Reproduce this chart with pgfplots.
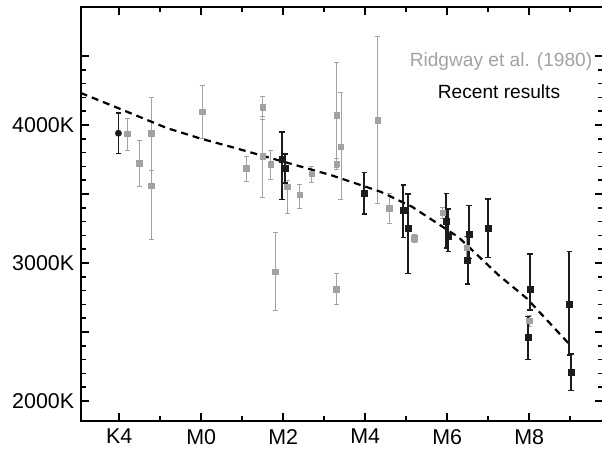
\documentclass[border=0pt]{standalone}
\usepackage{fontspec}
\setmainfont{Liberation Sans}
\usepackage{pgfplots}
\usepackage{pgfplotstable}
\pgfplotsset{compat=1.18}
\definecolor{ridg}{HTML}{A2A2A2}
\definecolor{rec}{HTML}{1C1C1C}

\pgfplotstableread{
x y ep em
-1.81 3935 114 121
-1.51 3722 169 169
-1.22 3940 260 271
-1.22 3558 382 391
0.02 4097 193 194
1.10 3686 84 97
1.50 4128 82 87
1.50 3775 290 299
1.70 3717 102 110
1.80 2937 283 278
2.10 3553 47 191
2.40 3493 79 97
2.70 3645 58 63
3.31 4072 382 382
3.31 3720 40 40
3.41 3843 391 386
3.29 2810 112 110
4.30 4036 609 608
4.59 3396 109 108
5.20 3179 30 30
5.89 3365 40 40
6.47 3110 80 80
8.00 2580 40 40
}\ridgway

\pgfplotstableread{
x y ep em
1.97 3750 200 290
2.05 3690 100 110
3.98 3505 150 150
4.93 3384 181 200
5.05 3251 250 326
5.98 3304 201 197
6.03 3191 200 109
6.50 3022 169 174
6.54 3210 205 176
6.99 3251 211 210
8.02 2809 256 150
7.97 2459 152 157
8.98 2701 381 368
9.02 2208 133 133
}\recent

\pgfplotstableread{
x y ep em
-2.02 3940 145 145
}\recentcirc

\pgfplotstableread{
x y
-2.94 4232
-2.38 4165
-0.84 3978
0.00 3900
0.71 3843
3.15 3638
4.37 3517
5.14 3408
6.28 3186
7.25 2913
7.94 2744
8.96 2418
}\fitline

\begin{document}
\begin{tikzpicture}[x=1bp,y=1bp]
\useasboundingbox (0,0) rectangle (602,453);
\begin{axis}[
  at={(80.7bp,32.3bp)}, anchor=south west,
  scale only axis, width=521.8bp, height=413.7bp,
  xmin=-2.94, xmax=9.79, ymin=1857, ymax=4855,
  xtick={-2,0,2,4,6,8}, xticklabels={K4,M0,M2,M4,M6,M8},
  minor xtick={-1,1,3,5,7,9},
  ytick={2000,2500,3000,3500,4000,4500},
  yticklabels={2000K,,3000K,,4000K,},
  minor y tick num=4,
  tick align=inside,
  major tick length=8bp, minor tick length=5bp,
  axis line style={line width=2bp},
  every tick/.style={black, line width=1.5bp},
  tick label style={font=\fontsize{21.5}{24}\selectfont},
  xticklabel style={yshift=-5bp},
  yticklabel style={xshift=-3bp},
  clip=false,
]
\addplot[only marks, mark=square*, mark size=2.7bp, color=ridg,
  error bars/.cd, y dir=both, y explicit,
  error bar style={line width=0.9bp, ridg},
  error mark options={rotate=90, mark size=2.5bp, ridg, line width=0.9bp}]
  table[x=x, y=y, y error plus=ep, y error minus=em] {\ridgway};
\addplot[no marks, black, line width=2.2bp, dash pattern=on 7bp off 5bp]
  table[x=x, y=y] {\fitline};
\addplot[only marks, mark=square*, mark size=3bp, color=rec,
  error bars/.cd, y dir=both, y explicit,
  error bar style={line width=1.8bp, rec},
  error mark options={rotate=90, mark size=2.8bp, rec, line width=1.5bp}]
  table[x=x, y=y, y error plus=ep, y error minus=em] {\recent};
\addplot[only marks, mark=*, mark size=3.2bp, color=rec,
  error bars/.cd, y dir=both, y explicit,
  error bar style={line width=1.8bp, rec},
  error mark options={rotate=90, mark size=2.8bp, rec, line width=1.5bp}]
  table[x=x, y=y, y error plus=ep, y error minus=em] {\recentcirc};
\node[font=\fontsize{19.2}{22}\selectfont, text=ridg] at (rel axis cs:0.8055,0.867) {Ridgway et al. (1980)};
\node[font=\fontsize{19.2}{22}\selectfont, text=black] at (rel axis cs:0.8016,0.7945) {Recent results};
\end{axis}
\end{tikzpicture}
\end{document}
